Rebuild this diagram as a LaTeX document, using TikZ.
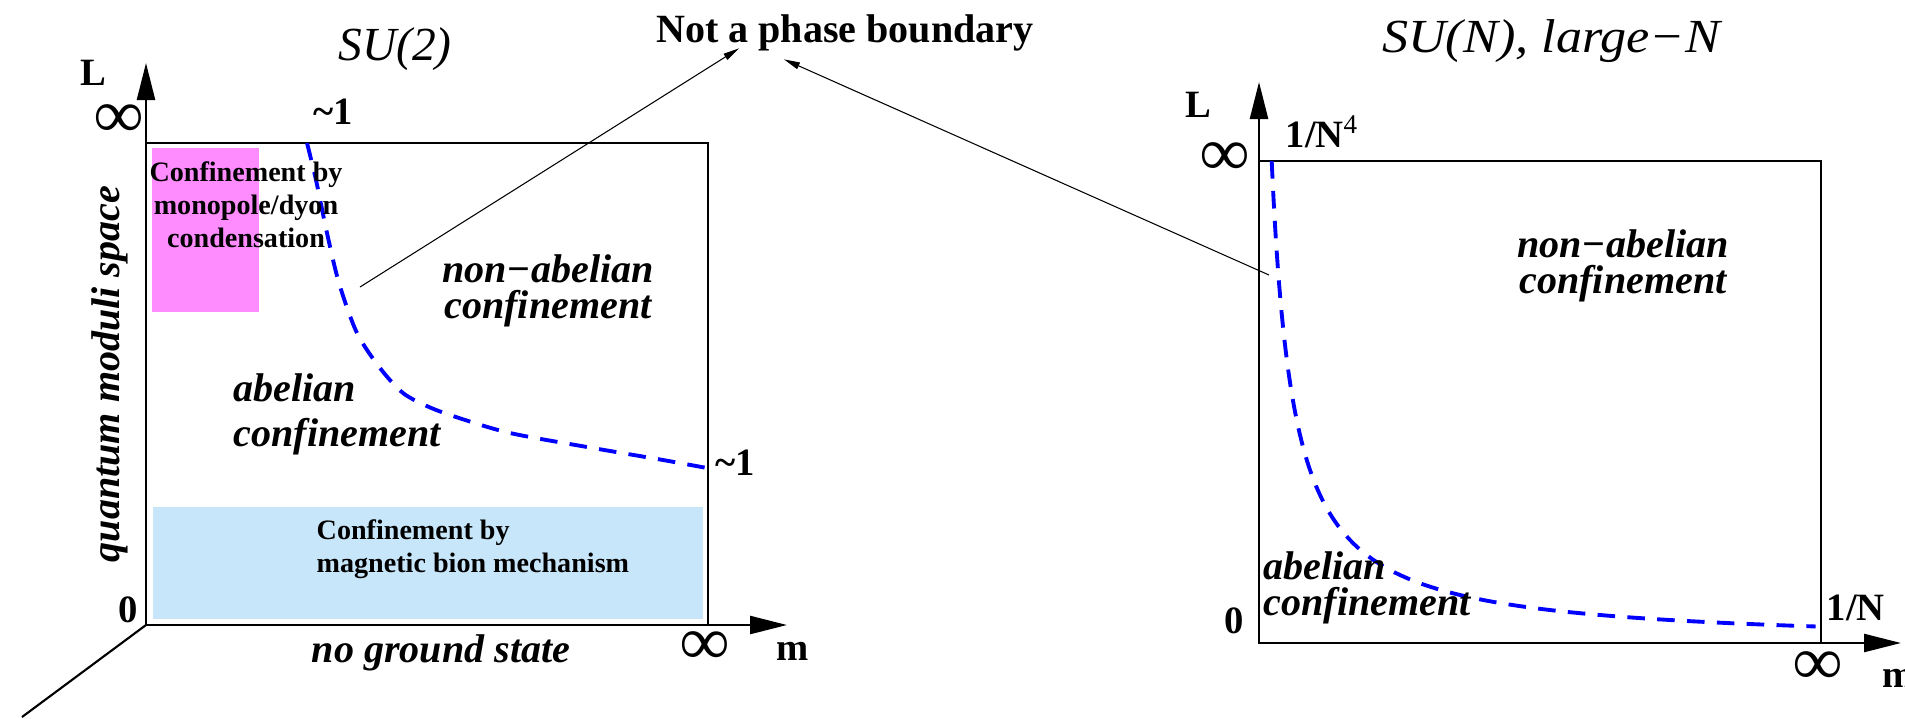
\documentclass[tikz,border=0pt]{standalone}
\usepackage{fontspec}
\setmainfont{Liberation Serif}
\usetikzlibrary{arrows.meta,calc}
\definecolor{pink400}{HTML}{FF8CFF}
\definecolor{sky100} {HTML}{C8E6FA}
\definecolor{blue700}{HTML}{0000FF}
\tikzset{
  frame/.style ={draw=black, line width=0.6pt},
  axis/.style  ={-{Triangle[length=3.7mm,width=1.8mm]}, line width=0.7pt},
  ptr/.style   ={-{Triangle[length=1.6mm,width=0.7mm]}, line width=0.3pt},
  bound/.style ={draw=blue700, line width=1.1pt, dash pattern=on 5pt off 3.5pt},
  ttl/.style   ={font=\fontsize{13.5}{16}\selectfont\itshape, inner sep=0pt},
  reg/.style   ={font=\fontsize{11.4}{10.2}\selectfont\bfseries\itshape,
                 inner sep=0pt},
  num/.style   ={font=\fontsize{11}{13}\selectfont\bfseries, inner sep=0pt},
  inft/.style  ={font=\fontsize{19.5}{20}\selectfont\bfseries, inner sep=0pt},
  boxt/.style  ={font=\fontsize{8}{9.3}\selectfont\bfseries, inner sep=0pt}
}
\begin{document}
\begin{tikzpicture}
\useasboundingbox (0,0) rectangle (19.05,-7.18);
% left panel, SU(2)
\coordinate (o1) at (1.46,-6.25);
\coordinate (c1) at (7.08,-1.43);
\coordinate (ly1) at (1.46,-0.63);
\coordinate (lx1) at (7.87,-6.25);
\coordinate (dg1) at (0.22,-7.17);
\fill[pink400] (1.52,-1.48) rectangle (2.59,-3.12);
\fill[sky100] (1.53,-5.07) rectangle (7.03,-6.19);
\draw[frame] (o1) rectangle (c1);
\draw[axis] (o1) -- (ly1);
\draw[axis] (o1) -- (lx1);
\draw[frame] (o1) -- (dg1);
\draw[bound] plot[smooth] coordinates {(3.07,-1.43) (3.16,-1.80) (3.27,-2.33)
  (3.39,-2.83) (3.57,-3.33) (3.80,-3.68) (4.03,-3.93) (4.29,-4.07)
  (4.59,-4.18) (5.10,-4.33) (5.87,-4.47) (6.63,-4.60) (7.07,-4.68)};

\node[ttl] (su2) at (3.95,-0.49) {SU(2)};
\node[num, anchor=base] (l1) at (0.93,-0.85) {L};
\node[inft] (inf1) at (1.19,-1.21) {∞};
\node[num, anchor=base] (t1) at (3.33,-1.24) {\textasciitilde1};
\node[num, anchor=base west] (t2) at (7.15,-4.75) {\textasciitilde1};
\node[num, anchor=base] (z1) at (1.28,-6.22) {0};
\node[inft] (inf2) at (7.05,-6.48) {∞};
\node[num, anchor=base] (m1) at (7.93,-6.60) {m};
% base of a two or three line node is its last line
\node[boxt, anchor=base, align=center] (mono) at (2.46,-2.47)
  {Confinement by\\ monopole/dyon\\ condensation};
\node[boxt, anchor=base west, align=left] (bion) at (3.16,-5.72)
  {Confinement by\\ magnetic bion mechanism};
\node[reg, anchor=base, align=center] (na1) at (5.48,-3.18)
  {non−abelian\\ confinement};
\node[reg, anchor=base west, align=left,
      font=\fontsize{11.4}{12.6}\selectfont\bfseries\itshape] (ab1) at (2.33,-4.46)
  {abelian\\ confinement};
\node[reg, anchor=base] (ngs) at (4.41,-6.62) {no ground state};
\node[reg, rotate=90] (qms) at (1.10,-3.74) {quantum moduli space};

% right panel, SU(N)
\coordinate (o2) at (12.59,-6.43);
\coordinate (c2) at (18.21,-1.61);
\coordinate (ly2) at (12.59,-0.82);
\coordinate (lx2) at (19.01,-6.43);
\draw[frame] (o2) rectangle (c2);
\draw[axis] (o2) -- (ly2);
\draw[axis] (o2) -- (lx2);
\draw[bound] plot[variable=\t, domain=0:1, samples=80]
  ({12.5+0.217*exp(3.263*\t)}, {-6.45+4.839*exp(-3.263*\t)});

\node[ttl, anchor=base] (sun) at (15.51,-0.52)
  {\scalebox{1.1}[1]{SU(N), large−N}};
\node[num, anchor=base] (l2) at (11.98,-1.17) {L};
\node[inft] (inf3) at (12.25,-1.59) {∞};
\node[num, anchor=base west] (n4) at (12.85,-1.47) {1/N\textsuperscript{\mdseries 4}};
\node[num, anchor=base] (z2) at (12.34,-6.33) {0};
\node[num, anchor=base west] (n1) at (18.26,-6.20) {1/N};
\node[inft] (inf4) at (18.18,-6.68) {∞};
\node[num, anchor=base west] (m2) at (18.82,-6.87) {m};
\node[reg, anchor=base, align=center] (na2) at (16.23,-2.93)
  {non−abelian\\ confinement};
\node[reg, anchor=base west, align=left] (ab2) at (12.63,-6.15)
  {abelian\\ confinement};

% the dashed lines are crossovers
\node[num, font=\fontsize{11.4}{13}\selectfont\bfseries, anchor=base]
  (nopb) at (8.45,-0.42) {Not a phase boundary};
\coordinate (pl) at (3.60,-2.87);
\coordinate (pr) at (12.69,-2.75);
\draw[ptr] (pl) -- ([shift={(-1.06,0.03)}]nopb.south);
\draw[ptr] (pr) -- ([shift={(-0.61,-0.08)}]nopb.south);
\end{tikzpicture}
\end{document}
